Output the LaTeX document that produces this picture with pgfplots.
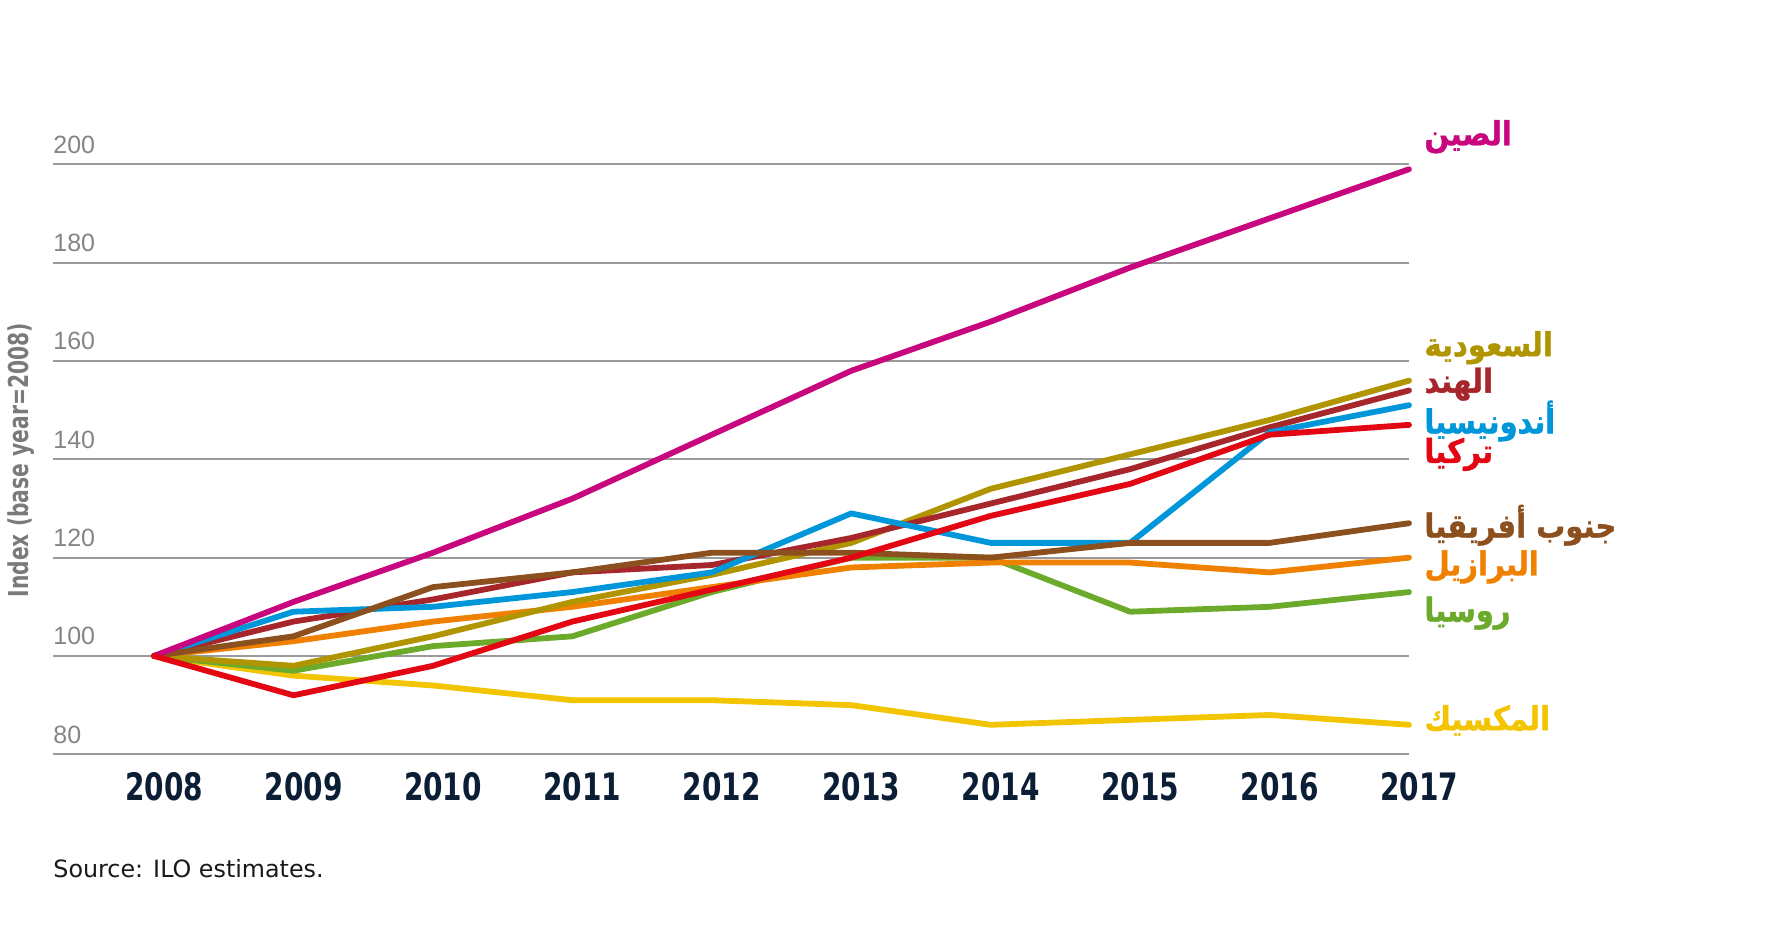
\documentclass[border=0pt]{standalone}
\usepackage{fontspec}
\usepackage{pgfplots}
\pgfplotsset{compat=1.18}
\TeXXeTstate=1
\setmainfont{DejaVu Sans}
\newfontfamily\condfont[FakeStretch=0.74]{DejaVu Sans}
\newfontfamily\tickfont{Liberation Sans}
\newfontfamily\arabicfont[Script=Arabic, FakeStretch=0.88, BoldFeatures={FakeBold=1.2}]{DejaVu Sans}
\definecolor{cChina}{HTML}{C8077E}
\definecolor{cSaudi}{HTML}{B09500}
\definecolor{cIndia}{HTML}{A6262B}
\definecolor{cIndo}{HTML}{0097DA}
\definecolor{cTurkey}{HTML}{E30613}
\definecolor{cSA}{HTML}{8C4F1E}
\definecolor{cBrazil}{HTML}{F08000}
\definecolor{cRussia}{HTML}{6CAA2B}
\definecolor{cMexico}{HTML}{F2C500}
\definecolor{gridc}{HTML}{9A9A9A}
\definecolor{tickc}{HTML}{858585}
\definecolor{yearc}{HTML}{0B1E36}
\definecolor{ylabc}{HTML}{7A7A7A}
\newcommand{\arlab}{\arabicfont\bfseries\fontsize{16.5}{20}\selectfont}
\begin{document}
\begin{tikzpicture}
\useasboundingbox (-26.5pt,-89.35pt) rectangle (859.5pt,377.15pt);
\begin{axis}[at={(0pt,0pt)}, anchor=south west, scale only axis,
  width=678pt, height=295pt,
  xmin=2007.275, xmax=2017, ymin=80, ymax=200, clip=false,
  axis line style={draw=none}, major tick length=0pt,
  xtick={2008,2009,2010,2011,2012,2013,2014,2015,2016,2017},
  ytick={80,100,120,140,160,180,200},
  ymajorgrids, grid style={draw=gridc, line width=1pt},
  /pgf/number format/1000 sep={},
  /pgf/number format/assume math mode=true,
  xticklabel style={font=\condfont\bfseries\fontsize{18.9}{20}\selectfont, text=yearc, anchor=north, inner sep=0pt, yshift=-8.9pt, xshift=5pt},
  yticklabel style={font=\tickfont\fontsize{12.5}{14}\selectfont, text=tickc, anchor=base west, inner sep=0pt, yshift=5.6pt},
  every axis plot/.append style={line width=2.9pt, line join=round, line cap=round, mark=none}]
\addplot[cMexico] coordinates {(2008,100)(2009,96)(2010,94)(2011,91)(2012,91)(2013,90)(2014,86)(2015,87)(2016,88)(2017,86)};
\addplot[cRussia] coordinates {(2008,100)(2009,97)(2010,102)(2011,104)(2012,113)(2013,120)(2014,120)(2015,109)(2016,110)(2017,113)};
\addplot[cBrazil] coordinates {(2008,100)(2009,103)(2010,107)(2011,110)(2012,114)(2013,118)(2014,119)(2015,119)(2016,117)(2017,120)};
\addplot[cSaudi] coordinates {(2008,100)(2009,98)(2010,104)(2011,111)(2012,116.5)(2013,123)(2014,134)(2015,141)(2016,148)(2017,156)};
\addplot[cIndia] coordinates {(2008,100)(2009,107)(2010,111.5)(2011,117)(2012,118.5)(2013,124)(2014,131)(2015,138)(2016,146.5)(2017,154)};
\addplot[cIndo] coordinates {(2008,100)(2009,109)(2010,110)(2011,113)(2012,117)(2013,129)(2014,123)(2015,123)(2016,145.5)(2017,151)};
\addplot[cSA] coordinates {(2008,100)(2009,104)(2010,114)(2011,117)(2012,121)(2013,121)(2014,120)(2015,123)(2016,123)(2017,127)};
\addplot[cChina] coordinates {(2008,100)(2009,111)(2010,121)(2011,132)(2012,145)(2013,158)(2014,168)(2015,179)(2016,189)(2017,199)};
\addplot[cTurkey] coordinates {(2008,100)(2009,92)(2010,98)(2011,107)(2012,113.5)(2013,120)(2014,128.5)(2015,135)(2016,145)(2017,147)};
\node[anchor=west, inner sep=0pt, text=cChina] at (axis cs:2017.108,205.6) {\arlab\beginR الصين\endR};
\node[anchor=west, inner sep=0pt, text=cSaudi] at (axis cs:2017.108,162.7) {\arlab\beginR السعودية\endR};
\node[anchor=west, inner sep=0pt, text=cIndia] at (axis cs:2017.108,155.3) {\arlab\beginR الهند\endR};
\node[anchor=west, inner sep=0pt, text=cIndo] at (axis cs:2017.108,147.8) {\arlab\beginR أندونيسيا\endR};
\node[anchor=west, inner sep=0pt, text=cTurkey] at (axis cs:2017.108,141) {\arlab\beginR تركيا\endR};
\node[anchor=west, inner sep=0pt, text=cSA] at (axis cs:2017.108,126.6) {\arlab\beginR جنوب أفريقيا\endR};
\node[anchor=west, inner sep=0pt, text=cBrazil] at (axis cs:2017.108,118.1) {\arlab\beginR البرازيل\endR};
\node[anchor=west, inner sep=0pt, text=cRussia] at (axis cs:2017.108,108.7) {\arlab\beginR روسيا\endR};
\node[anchor=west, inner sep=0pt, text=cMexico] at (axis cs:2017.108,86.9) {\arlab\beginR المكسيك\endR};
\node[rotate=90, anchor=center, inner sep=0pt, text=ylabc, font=\condfont\bfseries\fontsize{13.7}{15}\selectfont] at (axis cs:2007.045,139.8) {Index (base year=2008)};
\node[anchor=base west, inner sep=0pt, yshift=-61.5pt, text=black!90, font=\fontsize{11.9}{14}\selectfont] at (axis cs:2007.275,80) {Source: ILO estimates.};
\end{axis}
\end{tikzpicture}
\end{document}
